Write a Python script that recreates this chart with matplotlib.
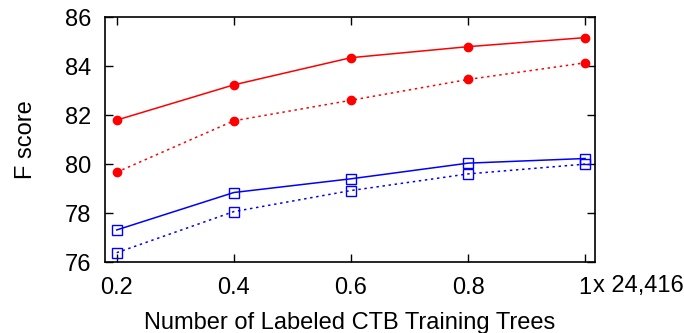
import matplotlib
matplotlib.use('Agg')
import matplotlib.pyplot as plt

plt.rcParams['font.family'] = ['Liberation Sans', 'DejaVu Sans']

# fraction of the 24,416 labeled trees used for training
frac = [0.2, 0.4, 0.6, 0.8, 1.0]
red_solid = [81.80, 83.24, 84.35, 84.80, 85.17]
red_dotted = [79.67, 81.77, 82.61, 83.46, 84.14]
blue_solid = [77.31, 78.84, 79.40, 80.04, 80.23]
blue_dotted = [76.38, 78.06, 78.92, 79.60, 80.00]
xtick_labels = ['0.2', '0.4', '0.6', '0.8', '1']
yticks = [76, 78, 80, 82, 84, 86]

fig = plt.figure(figsize=(6.84, 3.33), dpi=100)
ax = fig.add_axes([0.1535, 0.2132, 0.7165, 0.7348])

dot = (0, (1.6, 2.4))
ax.plot(frac, red_solid, '-', color='#ff0000', lw=1.1, marker='o', ms=6)
ax.plot(frac, red_dotted, linestyle=dot, color='#ff0000', lw=1.1, marker='o', ms=6)
ax.plot(frac, blue_solid, '-', color='#0000ff', lw=1.1, marker='s', ms=7,
        mfc='none', mew=1.0)
ax.plot(frac, blue_dotted, linestyle=dot, color='#0000ff', lw=1.1, marker='s', ms=7,
        mfc='none', mew=1.0)

ax.set_xlim(0.18, 1.017)
ax.set_ylim(76, 86)
ax.set_xticks(frac)
ax.set_xticklabels(xtick_labels)
ax.set_yticks(yticks)
ax.tick_params(direction='in', top=True, right=True, length=6, width=1,
               labelsize=17)
ax.tick_params(axis='x', pad=11)
ax.tick_params(axis='y', pad=10)
for s in ax.spines.values():
    s.set_linewidth(1.2)

ax.text(1.0 + 0.013, -0.1, 'x 24,416', transform=ax.get_xaxis_transform(),
        ha='left', va='center', fontsize=17)
ax.set_xlabel('Number of Labeled CTB Training Trees', fontsize=17, labelpad=9)
ax.set_ylabel('F score', fontsize=17, labelpad=20)

fig.savefig('out.png', dpi=100)
